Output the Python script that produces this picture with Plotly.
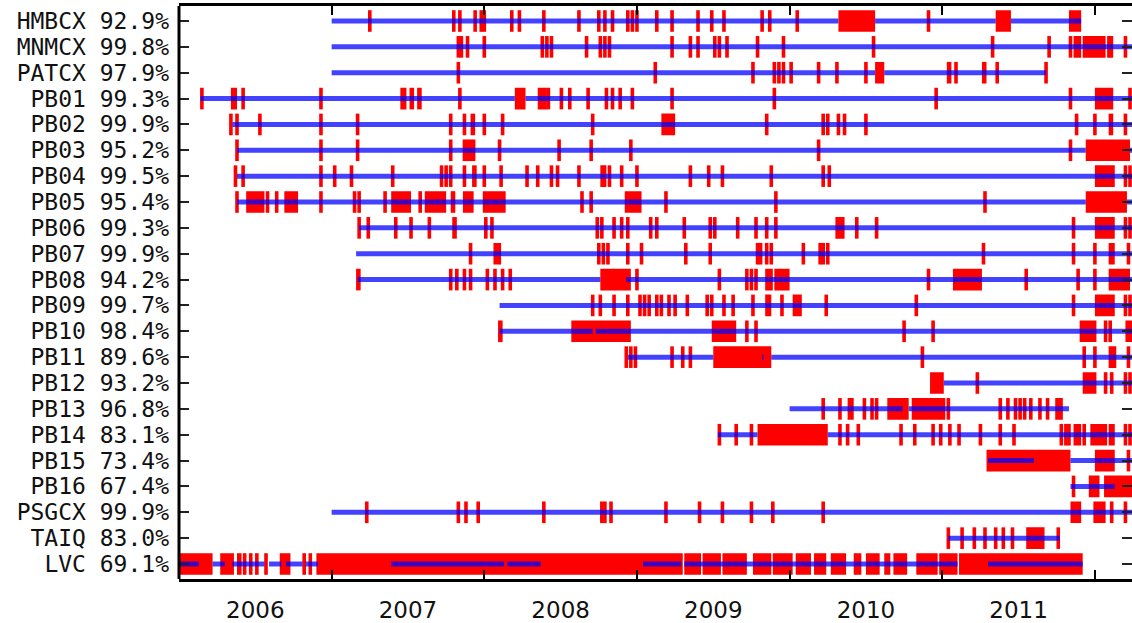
import plotly.graph_objects as go

# ---------------- data (decimal years) ----------------
names = ["HMBCX", "MNMCX", "PATCX", "PB01", "PB02", "PB03", "PB04", "PB05", "PB06", "PB07",
         "PB08", "PB09", "PB10", "PB11", "PB12", "PB13", "PB14", "PB15", "PB16", "PSGCX",
         "TAIQ", "LVC"]
availability = [92.9, 99.8, 97.9, 99.3, 99.9, 95.2, 99.5, 95.4, 99.3, 99.9, 94.2, 99.7, 98.4,
                89.6, 93.2, 96.8, 83.1, 73.4, 67.4, 99.9, 83.0, 69.1]

year_labels = ["2006", "2007", "2008", "2009", "2010", "2011"]
year_centers = [2006.5, 2007.5, 2008.5, 2009.5, 2010.5, 2011.5]
year_bounds = [2007, 2008, 2009, 2010, 2011, 2012]

# data spans (blue) and gaps (red); a single number is a short gap
HMBCX_data = [(2007.00, 2010.32), (2010.56, 2011.35), (2011.45, 2011.91)]
HMBCX_gaps = [2007.25, (2007.79, 2007.81), 2007.84, 2007.94, 2007.98, 2008.00, 2008.18, 2008.23,
              2008.39, 2008.62, 2008.75, 2008.79, 2008.84, 2008.94, 2008.97, 2009.00, 2009.13,
              2009.23, 2009.40, 2009.49, 2009.57, 2009.82, 2009.87, 2010.05, (2010.32, 2010.56),
              2010.91, (2011.35, 2011.45), (2011.83, 2011.91)]

MNMCX_data = [(2007.00, 2012.25)]
MNMCX_gaps = [2007.83, 2007.85, 2007.89, 2008.00, 2008.38, 2008.41, 2008.44, 2008.67, 2008.76,
              2008.79, 2008.82, 2009.23, 2009.35, 2009.40, 2009.51, 2009.54, 2009.59, 2009.79,
              2009.96, 2010.55, 2011.33, 2011.70, 2011.84, (2011.86, 2011.91), (2011.92, 2012.07),
              (2012.08, 2012.12), 2012.20]

PATCX_data = [(2007.00, 2010.56), (2010.62, 2011.68)]
PATCX_gaps = [2007.83, 2009.12, 2009.76, 2009.90, 2009.93, 2009.96, 2010.01, 2010.19, 2010.31,
              2010.50, (2010.56, 2010.62), (2011.03, 2011.06), 2011.09, (2011.26, 2011.29),
              2011.36, 2011.68]

PB01_data = [(2006.14, 2008.20), (2008.27, 2012.25)]
PB01_gaps = [2006.15, (2006.34, 2006.38), 2006.42, 2006.93, (2007.45, 2007.49), (2007.51, 2007.54),
             (2007.56, 2007.59), 2007.84, (2008.20, 2008.27), (2008.35, 2008.41), 2008.42,
             (2008.50, 2008.51), 2008.56, 2008.68, 2008.80, 2008.84, 2008.89, 2008.97, 2009.23,
             2009.90, 2010.96, 2011.84, (2012.00, 2012.12), 2012.23]

PB02_data = [(2006.35, 2012.25)]
PB02_gaps = [2006.34, 2006.38, 2006.53, 2006.93, 2007.17, 2007.78, 2007.87, (2007.91, 2007.94),
             2008.00, 2008.12, 2008.71, (2009.16, 2009.25), 2009.85, 2010.22, 2010.25, 2010.32,
             2010.36, 2010.50, 2011.88, 2012.00, (2012.09, 2012.12), 2012.20]

PB03_data = [(2006.38, 2011.94), (2012.23, 2012.25)]
PB03_gaps = [2006.38, 2006.93, 2007.17, 2007.78, 2007.87, 2007.89, 2007.91, 2007.93, 2008.10,
             2008.49, 2008.70, 2008.96, 2010.19, 2011.84, (2011.94, 2012.23)]

PB04_data = [(2006.38, 2012.25)]
PB04_gaps = [2006.37, 2006.42, 2006.93, 2007.02, 2007.13, 2007.40, 2007.72, 2007.75, 2007.78,
             2007.87, (2007.92, 2007.95), 2008.00, 2008.11, 2008.28, 2008.35, 2008.44, 2008.48,
             2008.62, (2008.76, 2008.80), 2008.82, 2008.90, 2009.00, 2009.35, 2009.47, 2009.56,
             2009.88, 2010.22, 2010.26, (2012.00, 2012.13), 2012.20, 2012.23]

PB05_data = [(2006.38, 2011.94), (2012.21, 2012.25)]
PB05_gaps = [2006.38, (2006.44, 2006.56), 2006.58, 2006.64, (2006.69, 2006.78), 2006.93, 2007.15,
             2007.18, 2007.35, (2007.39, 2007.52), 2007.58, (2007.61, 2007.75), (2007.78, 2007.81),
             (2007.86, 2007.93), (2007.99, 2008.14), 2008.64, 2008.70, (2008.92, 2009.03),
             2009.19, 2009.91, 2011.28, (2011.94, 2012.21)]

PB06_data = [(2007.18, 2012.25)]
PB06_gaps = [2007.18, 2007.24, 2007.42, 2007.52, 2007.64, (2007.79, 2007.82), 2008.01, 2008.05,
             2008.74, 2008.77, 2008.85, 2008.90, 2008.94, 2009.09, 2009.13, 2009.31, 2009.48,
             2009.51, 2009.66, 2009.78, 2009.85, 2009.91, (2010.30, 2010.36), (2010.43, 2010.45),
             2010.57, 2011.86, (2012.00, 2012.13), 2012.20, 2012.23]

PB07_data = [(2007.16, 2012.25)]
PB07_gaps = [2007.91, (2008.06, 2008.11), 2008.75, 2008.78, 2008.81, 2008.94, 2009.03, 2009.32,
             2009.48, 2009.79, 2009.81, 2009.85, 2009.88, 2010.09, 2010.20, 2010.22, 2010.25,
             2011.27, 2011.86, 2012.00, (2012.09, 2012.13), 2012.22]

PB08_data = [(2007.17, 2008.76), (2008.93, 2012.25)]
PB08_gaps = [(2007.16, 2007.19), 2007.78, 2007.82, 2007.87, 2007.91, 2008.02, 2008.07, 2008.12,
             2008.17, (2008.76, 2008.96), 2009.00, 2009.54, 2009.72, 2009.75, 2009.78,
             (2009.84, 2009.89), (2009.90, 2010.00), 2010.91, (2011.07, 2011.26), 2011.55,
             2011.89, 2012.00, (2012.09, 2012.23)]

PB09_data = [(2008.10, 2012.25)]
PB09_gaps = [2008.71, 2008.76, 2008.85, 2008.94, 2009.02, 2009.05, 2009.08, 2009.13, 2009.16,
             2009.21, 2009.25, 2009.33, 2009.46, 2009.49, 2009.57, 2009.63, 2009.76,
             (2009.84, 2009.88), 2009.95, (2010.02, 2010.08), 2010.24, 2010.83, 2011.86,
             (2012.00, 2012.13), 2012.20, 2012.23]

PB10_data = [(2008.10, 2008.71), (2008.73, 2012.25)]
PB10_gaps = [(2008.09, 2008.12), (2008.57, 2008.96), (2009.49, 2009.65), 2009.72, 2009.78,
             2010.75, 2010.94, (2011.90, 2012.01), 2012.07, 2012.10, (2012.20, 2012.25)]

PB11_data = [(2008.94, 2009.50), (2009.82, 2009.83), (2009.88, 2012.25)]
PB11_gaps = [2008.93, 2008.96, 2008.99, 2009.23, 2009.30, 2009.35, (2009.50, 2009.88), 2010.87,
             2011.93, 2012.00, (2012.09, 2012.14), 2012.22]

PB12_data = [(2011.01, 2012.25)]
PB12_gaps = [(2010.92, 2011.01), 2011.23, (2011.92, 2012.01), 2012.07, 2012.11, 2012.20, 2012.23]

PB13_data = [(2010.00, 2010.74), (2010.78, 2011.83)]
PB13_gaps = [2010.22, 2010.33, (2010.38, 2010.42), 2010.49, 2010.54, 2010.57, (2010.64, 2010.78),
             (2010.80, 2011.02), 2011.04, 2011.38, 2011.43, 2011.48, 2011.51, 2011.54, 2011.58,
             (2011.63, 2011.65), 2011.69, (2011.74, 2011.79)]

PB14_data = [(2009.53, 2009.79), (2010.25, 2012.25)]
PB14_gaps = [2009.54, 2009.65, 2009.75, (2009.79, 2010.25), 2010.33, 2010.38, 2010.45, 2010.73,
             2010.82, 2010.94, 2010.99, 2011.05, 2011.11, 2011.25, 2011.38, 2011.47, 2011.78,
             2011.81, 2011.83, (2011.86, 2011.91), 2011.93, (2011.97, 2012.08), (2012.09, 2012.13),
             2012.20, 2012.23]

PB15_data = [(2011.30, 2011.60), (2011.84, 2012.25)]
PB15_gaps = [(2011.29, 2011.84), (2012.00, 2012.13), 2012.22]

PB16_data = [(2011.84, 2012.13)]
PB16_gaps = [2011.86, (2011.96, 2012.03), (2012.06, 2012.30)]

PSGCX_data = [(2007.00, 2012.25)]
PSGCX_gaps = [2007.23, 2007.83, 2007.88, 2007.96, 2008.39, 2008.77, 2008.79, 2008.83, 2009.19,
              2009.41, 2009.56, 2009.75, 2009.89, 2010.22, (2011.84, 2011.91), (2011.99, 2012.07),
              2012.11, 2012.20]

TAIQ_data = [(2011.04, 2011.77)]
TAIQ_gaps = [2011.04, 2011.13, 2011.21, 2011.28, 2011.35, 2011.40, 2011.46, (2011.55, 2011.67),
             2011.76]

LVC_data = [(2006.00, 2006.13), (2006.22, 2006.30), (2006.35, 2006.56), (2006.59, 2006.67),
            (2006.70, 2006.81), (2006.83, 2006.91), (2007.39, 2008.13), (2008.15, 2008.37),
            (2009.04, 2009.29), (2009.31, 2010.90), (2010.90, 2011.10), (2011.30, 2011.92)]
LVC_gaps = [(2006.00, 2006.22), (2006.27, 2006.36), (2006.38, 2006.41), 2006.43, 2006.47, 2006.51,
            (2006.56, 2006.58), (2006.66, 2006.73), (2006.81, 2006.83), (2006.85, 2006.87),
            (2006.90, 2009.30), (2009.31, 2009.42), (2009.43, 2009.55), (2009.56, 2009.72),
            (2009.76, 2009.88), (2009.89, 2010.02), (2010.04, 2010.14), (2010.16, 2010.24),
            (2010.27, 2010.37), (2010.42, 2010.47), (2010.50, 2010.59), (2010.62, 2010.66),
            (2010.68, 2010.77), (2010.83, 2010.97), (2010.98, 2011.10), (2011.11, 2011.92)]

data_spans = [HMBCX_data, MNMCX_data, PATCX_data, PB01_data, PB02_data, PB03_data, PB04_data,
              PB05_data, PB06_data, PB07_data, PB08_data, PB09_data, PB10_data, PB11_data,
              PB12_data, PB13_data, PB14_data, PB15_data, PB16_data, PSGCX_data, TAIQ_data,
              LVC_data]
gap_lists = [HMBCX_gaps, MNMCX_gaps, PATCX_gaps, PB01_gaps, PB02_gaps, PB03_gaps, PB04_gaps,
             PB05_gaps, PB06_gaps, PB07_gaps, PB08_gaps, PB09_gaps, PB10_gaps, PB11_gaps,
             PB12_gaps, PB13_gaps, PB14_gaps, PB15_gaps, PB16_gaps, PSGCX_gaps, TAIQ_gaps,
             LVC_gaps]

# ---------------- build ----------------
labels = [f"{n} {a:.1f}%" for n, a in zip(names, availability)]
X0, X1 = 2006.0, 2012.243
PLOT_W = 1132 - 179
PX = (X1 - X0) / PLOT_W      # one pixel in years
STROKE = 3                   # outline width of the gap marks (px)
MIN_W = 0.004                # minimum drawn body for very short gaps

g_y, g_base, g_len = [], [], []
for lab, gaps in zip(labels, gap_lists):
    for g in gaps:
        s, e = g if isinstance(g, tuple) else (g, g)
        body = max(e - s - STROKE * PX, MIN_W)
        c = (s + e) / 2
        g_y.append(lab)
        g_base.append(c - body / 2)
        g_len.append(body)

b_x, b_y = [], []
for lab, spans in zip(labels, data_spans):
    for s, e in spans:
        b_x += [s, e, None]
        b_y += [lab, lab, None]

fig = go.Figure()
fig.add_trace(go.Bar(
    y=g_y, x=g_len, base=g_base, orientation="h", width=0.72,
    marker=dict(color="#ff0000", line=dict(color="#ff0000", width=STROKE)),
    showlegend=False, hoverinfo="skip"))
fig.add_trace(go.Scatter(
    x=b_x, y=b_y, mode="lines",
    line=dict(color="rgba(0,0,255,0.74)", width=5),
    showlegend=False, hoverinfo="skip"))

fig.update_layout(
    width=1132, height=623,
    margin=dict(l=179, r=0, t=6, b=40),
    plot_bgcolor="white", paper_bgcolor="white",
    barmode="overlay",
    xaxis=dict(
        range=[X0, X1],
        tickmode="array", tickvals=year_centers, ticktext=year_labels, ticks="",
        tickfont=dict(family="DejaVu Sans", size=23, color="#111"),
        ticklabelstandoff=8,
        minor=dict(tickvals=year_bounds, ticks="inside", ticklen=9, tickwidth=2,
                   tickcolor="black", showgrid=False),
        showline=True, linecolor="black", linewidth=3, mirror="ticks",
        showgrid=False, zeroline=False),
    yaxis=dict(
        categoryorder="array", categoryarray=labels[::-1],
        range=[-0.58, len(labels) - 0.42],
        tickmode="array", tickvals=labels, ticktext=labels,
        ticks="inside", ticklen=10, tickwidth=1.5, tickcolor="#222",
        tickfont=dict(family="DejaVu Sans Mono", size=23, color="#111"),
        ticklabelstandoff=9,
        showline=False, mirror="ticks",
        showgrid=False, zeroline=False),
    shapes=[dict(type="line", xref="paper", yref="paper", x0=0, x1=0, y0=0, y1=1,
                 line=dict(color="black", width=3))],
)

fig.write_html("out.html")
